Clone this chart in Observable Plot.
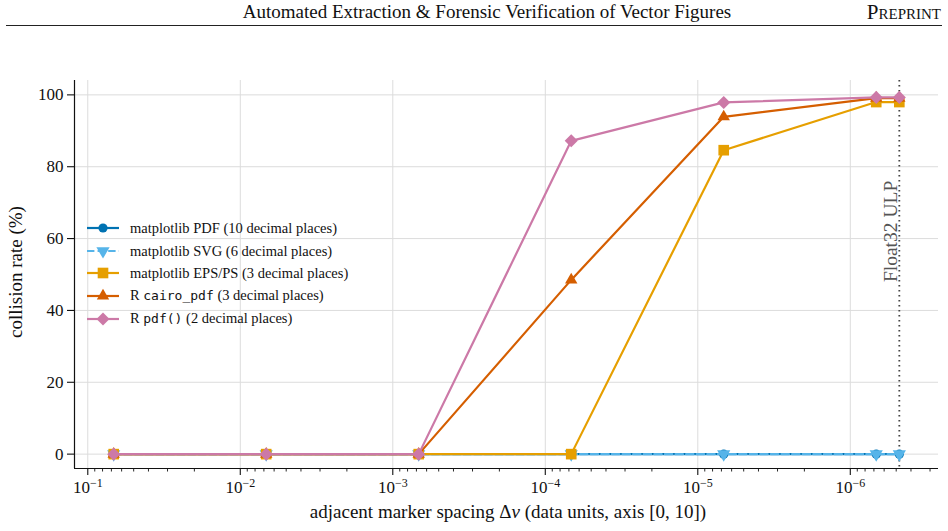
<!DOCTYPE html>
<html>
<head>
<meta charset="utf-8">
<script src="https://cdn.jsdelivr.net/npm/d3@7"></script>
<script src="https://cdn.jsdelivr.net/npm/@observablehq/plot@0.6"></script>
<style>
  html, body { margin: 0; padding: 0; background: #fff; }
  #wrap { position: relative; width: 948px; height: 531px; font-family: "Liberation Serif", "Times New Roman", serif; color: #111; }
  #title { position: absolute; left: 0; width: 974px; top: 1px; text-align: center; font-size: 19px; }
  #preprint { position: absolute; right: 7px; top: 0px; font-size: 21px; font-variant: small-caps; }
  #rule { position: absolute; left: 6px; width: 936px; top: 25px; height: 1.2px; background: #222; }
  #chart { position: absolute; left: 0; top: 0; }
  #legend { position: absolute; left: 86px; top: 217px; font-size: 14.5px; line-height: 22.6px; }
  #legend .row { display: flex; align-items: center; height: 22.6px; }
  #legend svg { margin-right: 10px; }
  #legend code { font-family: "DejaVu Sans Mono", monospace; font-size: 13px; }
  #xlabel { position: absolute; left: 76px; width: 864px; top: 501px; text-align: center; font-size: 19px; }
</style>
</head>
<body>
<div id="wrap">
  <div id="title">Automated Extraction &amp; Forensic Verification of Vector Figures</div>
  <div id="preprint">Preprint</div>
  <div id="rule"></div>
  <div id="chart"></div>
  <div id="legend"></div>
  <div id="xlabel">adjacent marker spacing Δ<i>v</i> (data units, axis [0, 10])</div>
</div>
<script>
// ---- data ----
const spacing = [0.0676, 0.00676, 0.000676, 0.0000676, 0.00000676, 6.76e-7, 4.77e-7];
const seriesNames = [
  "matplotlib PDF (10 decimal places)",
  "matplotlib SVG (6 decimal places)",
  "matplotlib EPS/PS (3 decimal places)",
  "R cairo_pdf (3 decimal places)",
  "R pdf() (2 decimal places)"
];
const pdfRate   = [0, 0, 0, 0, 0, 0, 0];
const svgRate   = [0, 0, 0, 0, 0, 0, 0];
const epsRate   = [0, 0, 0, 0, 84.6, 98.0, 98.0];
const cairoRate = [0, 0, 0, 48.5, 93.9, 99.1, 99.1];
const rpdfRate  = [0, 0, 0, 87.2, 97.9, 99.3, 99.3];
const float32Ulp = 4.77e-7;
const ulpLabel = "Float32 ULP";
const xMajorTicks = [1e-1, 1e-2, 1e-3, 1e-4, 1e-5, 1e-6];
const yTicks = [0, 20, 40, 60, 80, 100];
const xLabel = "adjacent marker spacing Δv (data units, axis [0, 10])";
const yLabel = "collision rate (%)";

// ---- styles ----
const styles = [
  {color: "#0072B2", symbol: "circle",   r: 4.6, rotate: 0,   dash: null},
  {color: "#56B4E9", symbol: "triangle", r: 4.9, rotate: 180, dash: "7.4,3.2"},
  {color: "#E69F00", symbol: "square",   r: 6.0, rotate: 0,   dash: null},
  {color: "#D55E00", symbol: "triangle", r: 4.6, rotate: 0,   dash: null},
  {color: "#CC79A7", symbol: "square",   r: 5.2, rotate: 45,  dash: null}
];
const rates = [pdfRate, svgRate, epsRate, cairoRate, rpdfRate];
const series = rates.map((vals, i) => vals.map((v, j) => ({x: spacing[j], y: v, s: seriesNames[i]})));

// minor ticks
const xMinorTicks = [];
for (let e = 1; e <= 7; e++) for (let k = 2; k <= 9; k++) {
  const v = k * Math.pow(10, -e);
  if (v < 0.122 && v > 2.65e-7) xMinorTicks.push(v);
}

const lw = 2.2;
const marks = [
  Plot.gridX(xMajorTicks, {stroke: "#dcdcdc", strokeOpacity: 1, strokeWidth: 1}),
  Plot.gridY(yTicks, {stroke: "#dcdcdc", strokeOpacity: 1, strokeWidth: 1}),
  Plot.axisX(xMinorTicks, {tickSize: 3.5, text: null, stroke: "#111", strokeWidth: 0.9, label: null}),
  Plot.axisX(xMajorTicks, {tickSize: 7, tickPadding: 5, stroke: "#111", strokeWidth: 1.1, fontSize: 17, label: null,
    tickFormat: d => "10^" + Math.round(Math.log10(d))}),
  Plot.axisY(yTicks, {tickSize: 7, tickPadding: 4, stroke: "#111", strokeWidth: 1.1, fontSize: 17, label: null}),
  Plot.ruleX([float32Ulp], {stroke: "#444", strokeWidth: 1.8, strokeDasharray: "1.6,3.4"}),
  Plot.text([ulpLabel], {x: () => float32Ulp, y: () => 62, rotate: -90, dx: -8.5, fill: "#555", fontSize: 19.5, textAnchor: "middle"})
];
series.forEach((data, i) => {
  const st = styles[i];
  marks.push(Plot.line(data, {x: "x", y: "y", stroke: st.color, strokeWidth: lw, strokeDasharray: st.dash, strokeLinejoin: "round"}));
  marks.push(Plot.dot(data, {x: "x", y: "y", symbol: () => st.symbol, r: st.r, fill: st.color, stroke: "none", rotate: st.rotate}));
});

const chart = Plot.plot({
  width: 948,
  height: 531,
  marginLeft: 74,
  marginRight: 10,
  marginTop: 80,
  marginBottom: 63,
  style: {fontFamily: "'Liberation Serif', 'Times New Roman', serif", fontSize: "17px", color: "#111", background: "transparent"},
  x: {type: "log", domain: [0.1222, 2.64e-7]},
  y: {domain: [-4, 104]},
  symbol: {type: "identity"},
  marks: [
    ...marks,
    Plot.ruleX([0.1222], {stroke: "#111", strokeWidth: 1.2}),
    Plot.ruleY([-4], {stroke: "#111", strokeWidth: 1.2})
  ]
});
document.getElementById("chart").appendChild(chart);

// superscript exponents on x tick labels
d3.select(chart).selectAll("text").each(function() {
  const t = d3.select(this);
  const s = t.text();
  const m = /^10\^(-?\d+)$/.exec(s);
  if (m) {
    t.text("10");
    t.append("tspan").attr("dy", "-0.45em").attr("font-size", "12px").text(m[1].replace("-", "−"));
  }
});

// y label (rotated)
d3.select(chart).append("text")
  .attr("transform", "translate(22,272) rotate(-90)")
  .attr("text-anchor", "middle")
  .attr("font-size", 19)
  .attr("fill", "#111")
  .text(yLabel);

// legend
const legend = d3.select("#legend");
seriesNames.forEach((name, i) => {
  const st = styles[i];
  const row = legend.append("div").attr("class", "row");
  const sv = row.append("svg").attr("width", 34).attr("height", 16);
  sv.append("line").attr("x1", 1).attr("x2", 33).attr("y1", 8).attr("y2", 8)
    .attr("stroke", st.color).attr("stroke-width", lw).attr("stroke-dasharray", st.dash);
  sv.append("path").attr("d", d3.symbol(st.symbol === "circle" ? d3.symbolCircle : st.symbol === "square" ? d3.symbolSquare : d3.symbolTriangle, Math.PI * st.r * st.r)())
    .attr("transform", `translate(17,8) rotate(${st.rotate})`).attr("fill", st.color);
  const label = row.append("span");
  const m = /^R (cairo_pdf|pdf\(\))(.*)$/.exec(name);
  if (m) {
    label.append("span").text("R ");
    label.append("code").text(m[1]);
    label.append("span").text(m[2]);
  } else {
    label.text(name);
  }
});
</script>
</body>
</html>
